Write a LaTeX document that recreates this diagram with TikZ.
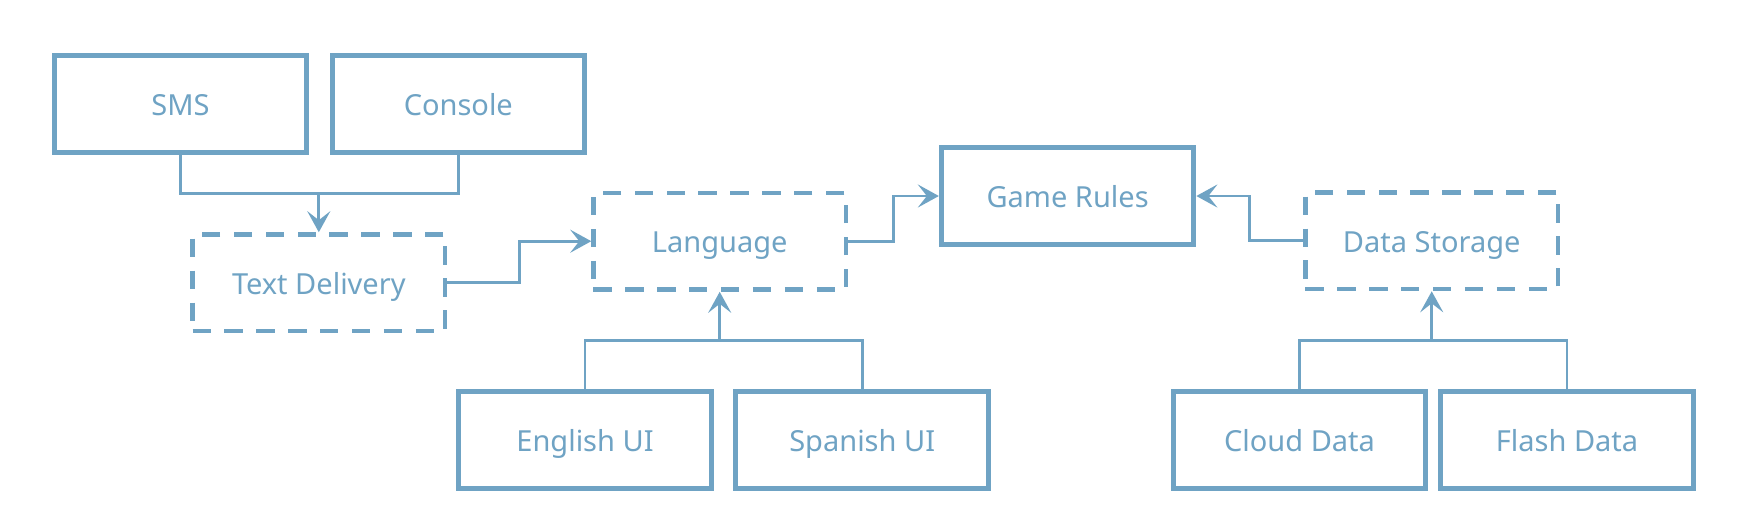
\documentclass[tikz,border=0pt]{standalone}
\usepackage{fontspec}
\setmainfont{Noto Sans}
\usetikzlibrary{calc,positioning,arrows.meta}
\definecolor{GameBlue}{HTML}{6FA3C4}

\begin{document}
\begin{tikzpicture}[x=0.5pt, y=-0.5pt,
        block/.style={rectangle, draw=GameBlue, line width=2.5pt, minimum width=126.25pt, minimum height=48.4pt,
            inner sep=0pt, text=GameBlue, font=\fontsize{14.5}{17}\selectfont, text height=11.5pt, text depth=0pt},
        dblock/.style={block, line width=2.2pt, dash pattern=on 9.15pt off 6.8pt},
        conn/.style={draw=GameBlue, line width=1.4pt},
        arrow/.style={conn, -{Stealth[length=10.5pt, width=11.5pt, inset=4.5pt]}}]

    \path[use as bounding box, fill=white] (0,0) rectangle (1748,526);

    % front ends
    \node[block] (sms) at (180.5,104.2) {SMS};
    \node[block] (console) at (458.3,104.2) {Console};
    \node[dblock] (td) at (318.8,282.8) {Text Delivery};

    % core
    \node[dblock] (lang) at (719.7,241.2) {Language};
    \node[block] (game) at (1067.6,196) {Game Rules};
    \node[dblock] (store) at (1431.7,240.7) {Data Storage};

    % back ends
    \node[block] (eng) at (585,439.8) {English UI};
    \node[block] (spa) at (862.2,439.8) {Spanish UI};
    \node[block] (cloud) at (1299.5,439.8) {Cloud Data};
    \node[block] (flash) at (1567,439.8) {Flash Data};

    \coordinate (tdj) at ($(sms.south)!.5!(td.north)$);
    \draw[conn] (sms.south) |- (tdj -| td.north) -| (console.south);
    \draw[arrow] (tdj -| td.north) -- (td.north);

    \coordinate (langj) at ($(lang.south)!.5!(eng.north)$);
    \draw[conn] (eng.north) |- (langj -| lang.south) -| (spa.north);
    \draw[arrow] (langj -| lang.south) -- (lang.south);

    \coordinate (storej) at ($(store.south)!.5!(cloud.north)$);
    \draw[conn] (cloud.north) |- (storej -| store.south) -| (flash.north);
    \draw[arrow] (storej -| store.south) -- (store.south);

    \draw[arrow] (td.east) -| ($(td.east)!.5!(lang.west)$) |- (lang.west);
    \draw[arrow] (lang.east) -| ($(lang.east)!.5!(game.west)$) |- (game.west);
    \draw[arrow] (store.west) -| ($(store.west)!.5!(game.east)$) |- (game.east);
\end{tikzpicture}
\end{document}
